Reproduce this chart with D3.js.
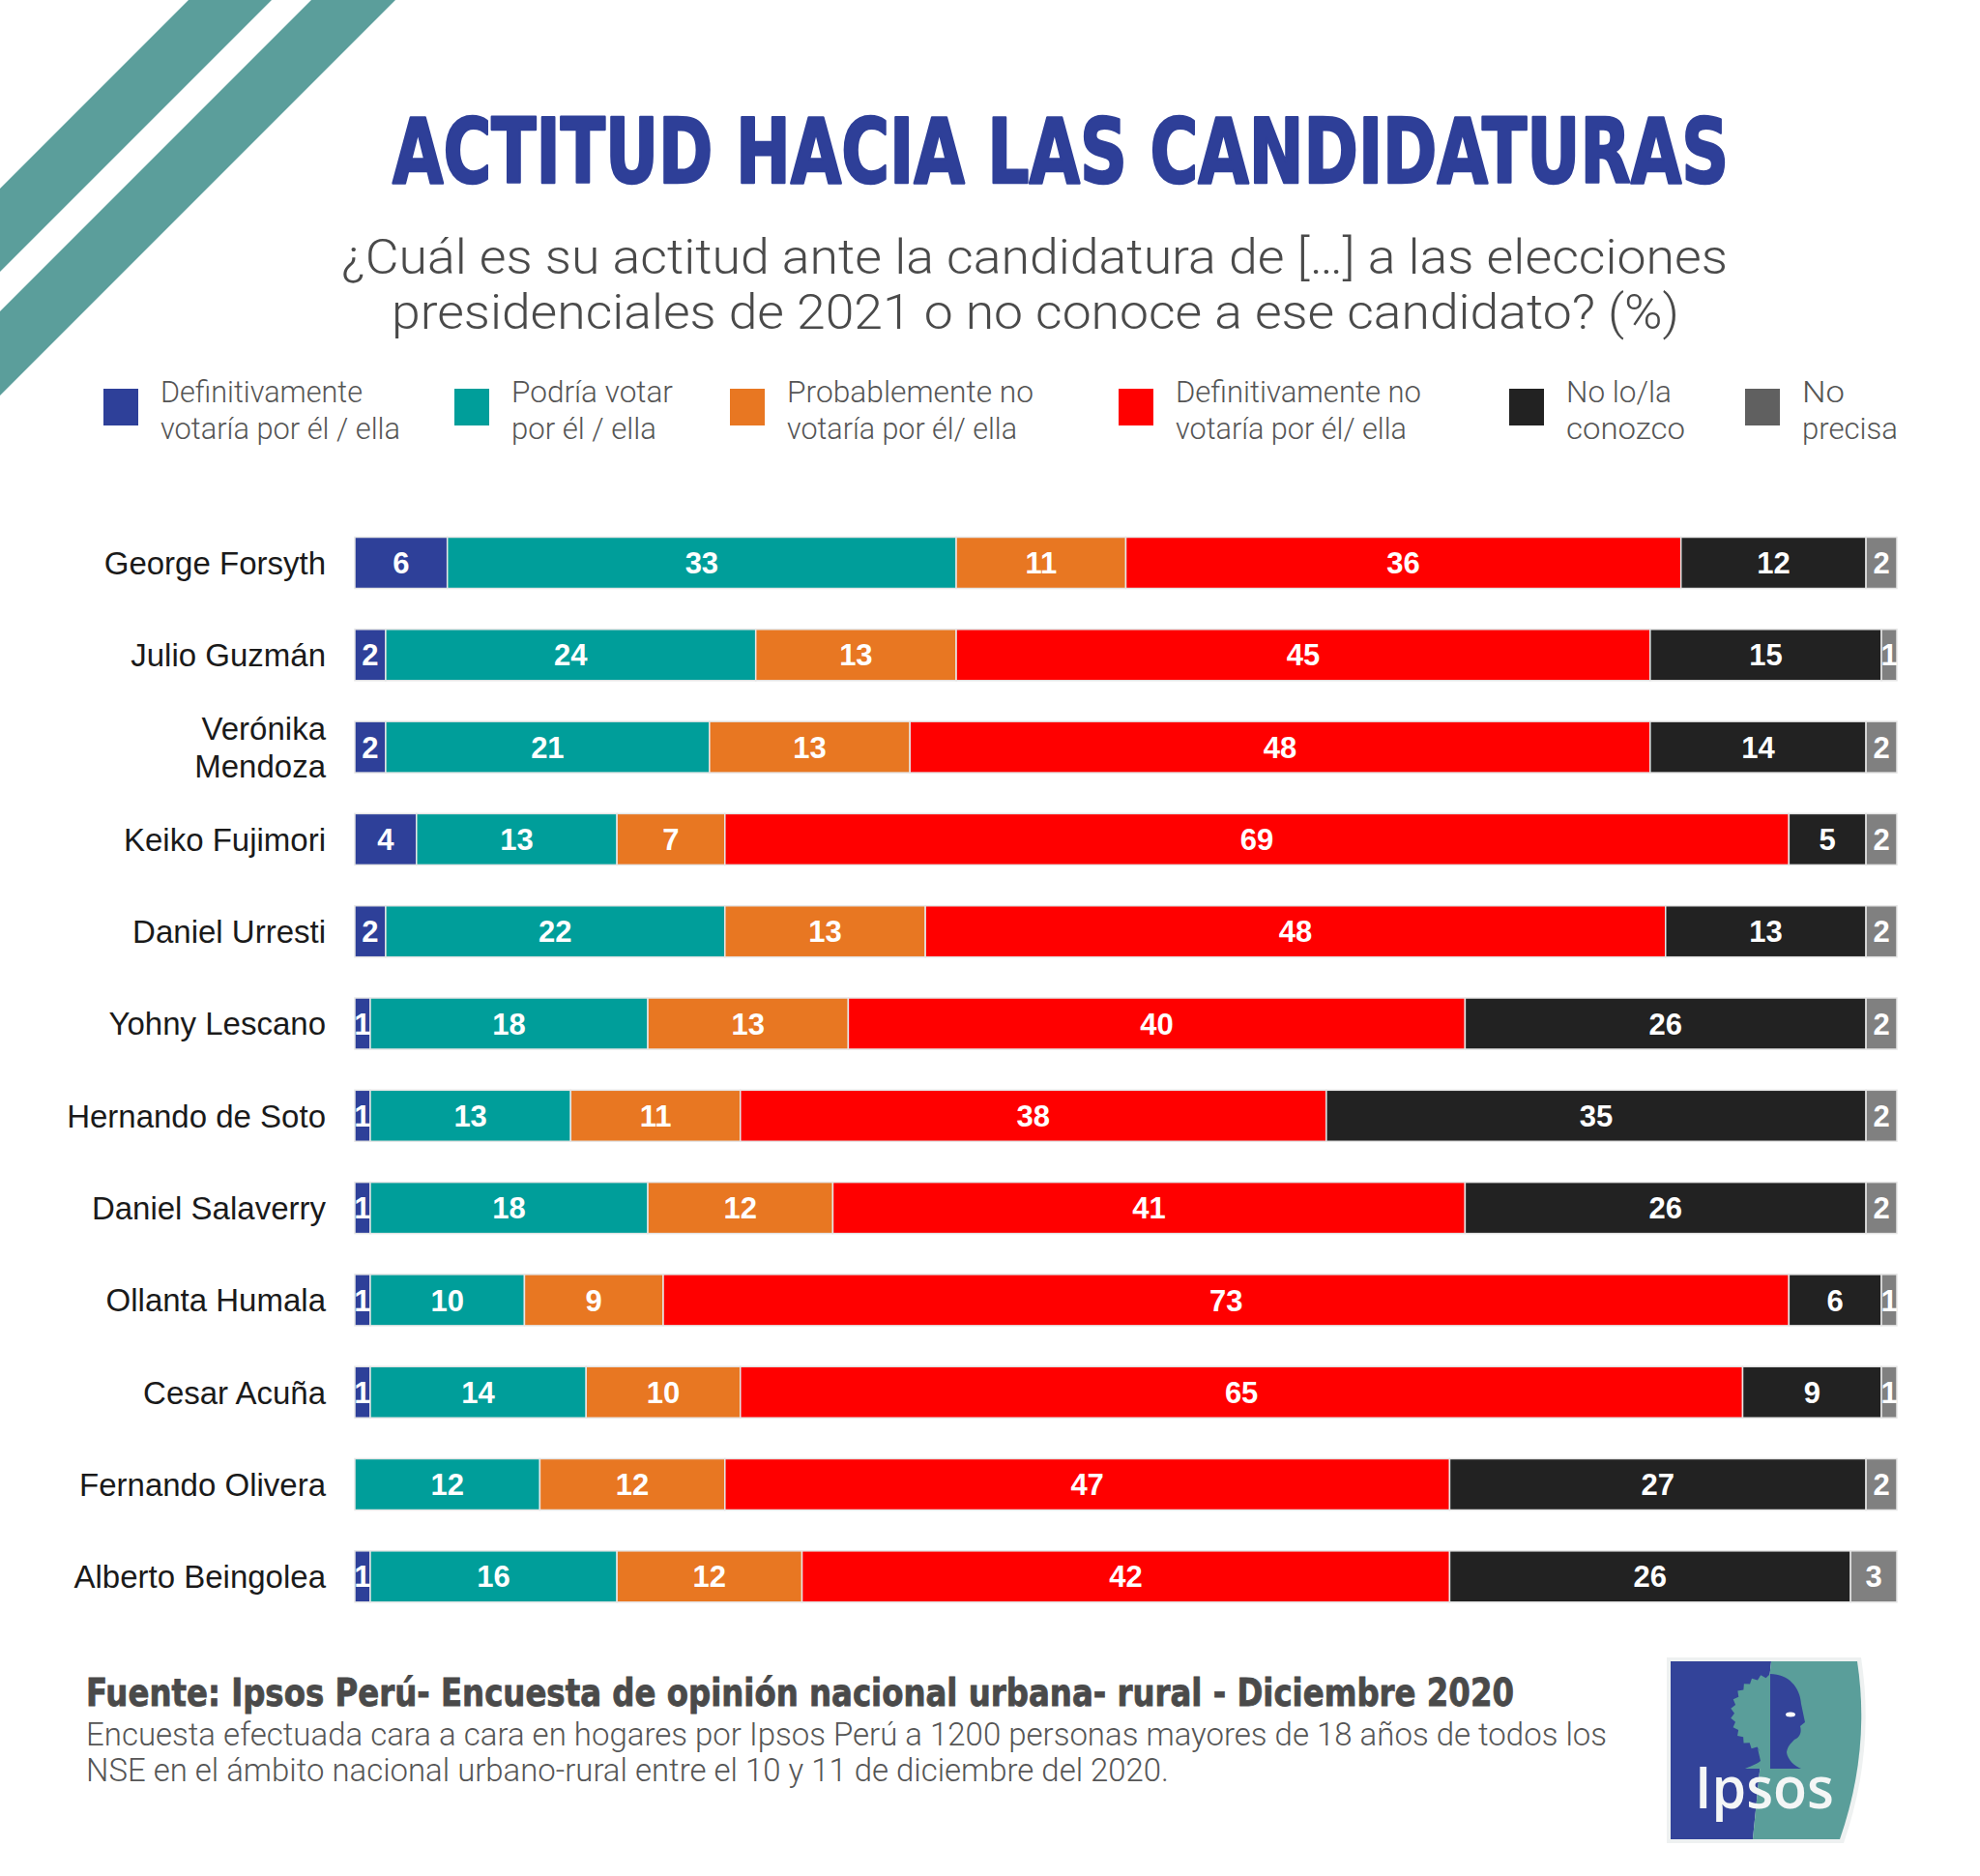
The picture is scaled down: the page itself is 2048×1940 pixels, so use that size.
<!DOCTYPE html>
<html lang="es">
<head>
  <meta charset="UTF-8">
  <title>Actitud hacia las candidaturas</title>
  <script src="https://d3js.org/d3.v7.min.js"></script>
  <style>
    body { margin: 0; background: #fff; }
    svg { display: block; }
    .title { font-family: "Liberation Sans Narrow", "DejaVu Sans Condensed", "Liberation Sans", sans-serif; font-weight: 700; }
    .light { font-family: Roboto, "Liberation Sans", sans-serif; font-weight: 300; }
    .name { font-family: "Liberation Sans", Arial, sans-serif; }
    .num { font-family: "Liberation Sans", Arial, sans-serif; font-weight: 700; }
  </style>
</head>
<body>
<div id="chart"></div>
<script>
  // candidatos (orden de arriba a abajo)
  const candidates = [
    "George Forsyth", "Julio Guzmán", "Verónika Mendoza", "Keiko Fujimori",
    "Daniel Urresti", "Yohny Lescano", "Hernando de Soto", "Daniel Salaverry",
    "Ollanta Humala", "Cesar Acuña", "Fernando Olivera", "Alberto Beingolea"
  ];
  const candidateLines = [
    ["George Forsyth"], ["Julio Guzmán"], ["Verónika", "Mendoza"], ["Keiko Fujimori"],
    ["Daniel Urresti"], ["Yohny Lescano"], ["Hernando de Soto"], ["Daniel Salaverry"],
    ["Ollanta Humala"], ["Cesar Acuña"], ["Fernando Olivera"], ["Alberto Beingolea"]
  ];

  const seriesKeys = ["defSi", "podria", "probNo", "defNo", "noConoce", "noPrecisa"];
  const legendLines = [
    ["Definitivamente", "votaría por él / ella"],
    ["Podría votar", "por él / ella"],
    ["Probablemente no", "votaría por él/ ella"],
    ["Definitivamente no", "votaría por él/ ella"],
    ["No lo/la", "conozco"],
    ["No", "precisa"]
  ];

  // valores (%)
  const defSi     = [6, 2, 2, 4, 2, 1, 1, 1, 1, 1, 0, 1];
  const podria    = [33, 24, 21, 13, 22, 18, 13, 18, 10, 14, 12, 16];
  const probNo    = [11, 13, 13, 7, 13, 13, 11, 12, 9, 10, 12, 12];
  const defNo     = [36, 45, 48, 69, 48, 40, 38, 41, 73, 65, 47, 42];
  const noConoce  = [12, 15, 14, 5, 13, 26, 35, 26, 6, 9, 27, 26];
  const noPrecisa = [2, 1, 2, 2, 2, 2, 2, 2, 1, 1, 2, 3];

  const barColors    = ["#2e4099", "#009e9a", "#e87722", "#ff0000", "#222222", "#808080"];
  const legendColors = ["#2e4099", "#009e9a", "#e87722", "#ff0000", "#222222", "#606060"];

  const W = 2048, H = 1940;
  const svg = d3.select("#chart").append("svg")
    .attr("width", W).attr("height", H);

  // franjas decorativas arriba a la izquierda
  const stripe = "#5b9e9b";
  [[195, 281], [322, 409]].forEach(([a, b]) => {
    svg.append("polygon")
      .attr("points", `${a},0 ${b},0 0,${b} 0,${a}`)
      .attr("fill", stripe);
  });

  // título y pregunta
  svg.append("text").attr("class", "title")
    .attr("x", 406).attr("y", 0)
    .attr("transform", "translate(0,189) scale(1,1.227)")
    .attr("font-size", 75).attr("fill", "#2e3f98")
    .attr("stroke", "#2e3f98").attr("stroke-width", 2).attr("stroke-linejoin", "round")
    .attr("textLength", 1382).attr("lengthAdjust", "spacingAndGlyphs")
    .text("ACTITUD HACIA LAS CANDIDATURAS");

  const sub = [
    { t: "¿Cuál es su actitud ante la candidatura de […] a las elecciones", x: 353, y: 283, w: 1434 },
    { t: "presidenciales de 2021 o no conoce a ese candidato? (%)", x: 405, y: 340, w: 1332 }
  ];
  svg.selectAll("text.sub").data(sub).join("text")
    .attr("class", "sub light")
    .attr("x", d => d.x).attr("y", d => d.y)
    .attr("font-size", 50).attr("fill", "#4a4a4a")
    .attr("textLength", d => d.w).attr("lengthAdjust", "spacingAndGlyphs")
    .text(d => d.t);

  // leyenda
  const legendX = [107, 470, 755, 1157, 1561, 1805];
  const legendW = [[209, 248], [167, 150], [255, 238], [254, 239], [109, 123], [44, 99]];
  const lg = svg.append("g");
  legendLines.forEach((lines, i) => {
    lg.append("rect")
      .attr("x", legendX[i]).attr("y", 402)
      .attr("width", 36).attr("height", 38)
      .attr("fill", legendColors[i]);
    lines.forEach((ln, j) => {
      lg.append("text").attr("class", "light")
        .attr("x", legendX[i] + 59).attr("y", 416 + j * 38)
        .attr("font-size", 32).attr("fill", "#555")
        .attr("textLength", legendW[i][j]).attr("lengthAdjust", "spacingAndGlyphs")
        .text(ln);
    });
  });

  // escalas
  const x = d3.scaleLinear().domain([0, 100]).range([367, 1962]);
  const y = d3.scaleBand().domain(candidates)
    .range([534.35, 534.35 + 12 * 95.3])
    .paddingInner(0.444).paddingOuter(0.222);

  // datos apilados
  const rows = candidates.map((c, i) => ({
    name: c, defSi: defSi[i], podria: podria[i], probNo: probNo[i],
    defNo: defNo[i], noConoce: noConoce[i], noPrecisa: noPrecisa[i]
  }));
  const stacked = d3.stack().keys(seriesKeys)(rows);

  const defs = svg.append("defs");
  const layer = svg.selectAll("g.layer")
    .data(stacked)
    .join("g")
    .attr("class", "layer")
    .attr("fill", (d, i) => barColors[i]);

  layer.selectAll("rect")
    .data(d => d.filter(s => s[1] - s[0] > 0))
    .join("rect")
    .attr("x", d => x(d[0]))
    .attr("y", d => y(d.data.name))
    .attr("width", d => x(d[1]) - x(d[0]))
    .attr("height", y.bandwidth())
    .attr("stroke", "#e6e6e6")
    .attr("stroke-width", 1.5);

  // etiquetas de valores
  let clipId = 0;
  stacked.forEach((ser, si) => {
    ser.forEach(s => {
      const v = s[1] - s[0];
      if (v <= 0) return;
      const id = "clip" + (clipId++);
      defs.append("clipPath").attr("id", id)
        .append("rect")
        .attr("x", x(s[0])).attr("y", y(s.data.name))
        .attr("width", x(s[1]) - x(s[0])).attr("height", y.bandwidth());
      svg.append("text").attr("class", "num")
        .attr("clip-path", `url(#${id})`)
        .attr("x", (x(s[0]) + x(s[1])) / 2)
        .attr("y", y(s.data.name) + y.bandwidth() / 2)
        .attr("dy", "0.36em")
        .attr("text-anchor", "middle")
        .attr("font-size", 31).attr("fill", "#fff")
        .text(v);
    });
  });

  // nombres de candidatos
  candidates.forEach((c, i) => {
    const lines = candidateLines[i];
    const cy = y(c) + y.bandwidth() / 2;
    lines.forEach((ln, j) => {
      svg.append("text").attr("class", "name")
        .attr("x", 337)
        .attr("y", cy + (j - (lines.length - 1) / 2) * 39)
        .attr("dy", "0.36em")
        .attr("text-anchor", "end")
        .attr("font-size", 33).attr("fill", "#1a1a1a")
        .text(ln);
    });
  });

  // fuente
  svg.append("text").attr("class", "title")
    .attr("x", 89).attr("y", 1764)
    .attr("font-size", 39).attr("fill", "#4a4a4a")
    .attr("stroke", "#4a4a4a").attr("stroke-width", 0.8)
    .attr("textLength", 1477).attr("lengthAdjust", "spacingAndGlyphs")
    .text("Fuente: Ipsos Perú- Encuesta de opinión nacional urbana- rural - Diciembre 2020");
  const notes = [
    { t: "Encuesta efectuada cara a cara en hogares por Ipsos Perú a 1200 personas mayores de 18 años de todos los", y: 1805, w: 1573 },
    { t: "NSE en el ámbito nacional urbano-rural entre el 10 y 11 de diciembre del 2020.", y: 1842, w: 1120 }
  ];
  svg.selectAll("text.note").data(notes).join("text")
    .attr("class", "note light")
    .attr("x", 89).attr("y", d => d.y)
    .attr("font-size", 33).attr("fill", "#555")
    .attr("textLength", d => d.w).attr("lengthAdjust", "spacingAndGlyphs")
    .text(d => d.t);

  // logo Ipsos
  const logo = svg.append("g");
  logo.append("path")
    .attr("d", "M1724,1714 L1925,1714 Q1940,1810 1907,1906 L1724,1906 Z")
    .attr("fill", "#eef1f1");
  logo.append("path")
    .attr("d", "M1728,1718 L1832,1718 Q1822,1810 1813,1902 L1728,1902 Z")
    .attr("fill", "#334399");
  logo.append("path")
    .attr("d", "M1832,1718 L1921,1718 Q1935,1810 1903,1902 L1813,1902 Q1822,1810 1832,1718 Z")
    .attr("fill", "#5a9e9a");
  // copa del árbol (lado azul), borde irregular
  const canopy = [];
  for (let k = 0; k <= 24; k++) {
    const a = -Math.PI / 2 - (k / 24) * Math.PI * 0.92;
    const r = k % 2 ? 37 : 41;
    canopy.push([1831 + r * Math.cos(a), 1772 + r * Math.sin(a)]);
  }
  logo.append("path")
    .attr("d", "M" + canopy.map(p => p.join(",")).join(" L") +
      " L1818,1808 L1821,1821 C1816,1825 1809,1827 1805,1829 L1831,1829 Z")
    .attr("fill", "#5a9e9a");
  // perfil (lado verde)
  logo.append("path")
    .attr("d", "M1831,1731 C1850,1731 1862,1745 1863,1762 L1867,1781 L1862,1785 C1864,1792 1861,1797 1856,1799 C1852,1803 1849,1806 1848,1812 C1849,1820 1856,1826 1863,1829 L1831,1829 Z")
    .attr("fill", "#334399");
  logo.append("ellipse")
    .attr("cx", 1852).attr("cy", 1773).attr("rx", 5).attr("ry", 2.5)
    .attr("fill", "#fff");
  logo.append("text")
    .attr("x", 1753).attr("y", 1870)
    .attr("font-family", "'Open Sans', 'Liberation Sans', sans-serif")
    .attr("font-weight", 600)
    .attr("font-size", 60).attr("fill", "#f4f6f6")
    .attr("textLength", 144).attr("lengthAdjust", "spacingAndGlyphs")
    .text("Ipsos");
</script>
</body>
</html>
